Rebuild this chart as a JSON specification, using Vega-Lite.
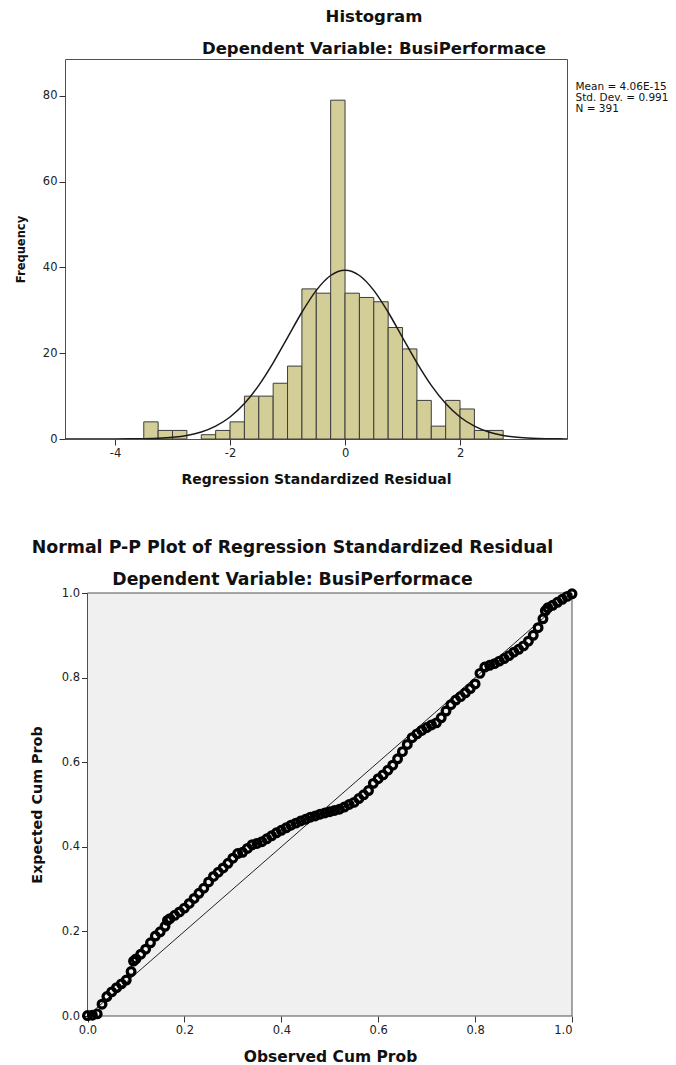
{
  "$schema": "https://vega.github.io/schema/vega-lite/v6.json",
  "background": "white",
  "padding": {"left": 14, "top": 8, "right": 0, "bottom": 0},
  "spacing": 52,
  "config": {
    "font": "DejaVu Sans",
    "view": {"fill": "#f0f0f0", "stroke": "#505050", "strokeWidth": 1},
    "axis": {"grid": false, "domain": false, "tickColor": "#333333", "tickSize": 6, "labelColor": "#222222", "labelFont": "DejaVu Sans", "labelFontSize": 11.5, "labelPadding": 2, "titleFont": "DejaVu Sans", "titleFontWeight": "bold", "titleColor": "#111111"},
    "title": {"font": "DejaVu Sans", "fontWeight": "bold", "fontSize": 16.5, "color": "#111111", "subtitleFont": "DejaVu Sans", "subtitleFontWeight": "bold", "subtitleFontSize": 16.5, "subtitleColor": "#111111"}
  },
  "datasets": {
    "bins": [
      {"bin_start": -3.5, "bin_end": -3.25, "count": 4},
      {"bin_start": -3.25, "bin_end": -3.0, "count": 2},
      {"bin_start": -3.0, "bin_end": -2.75, "count": 2},
      {"bin_start": -2.5, "bin_end": -2.25, "count": 1},
      {"bin_start": -2.25, "bin_end": -2.0, "count": 2},
      {"bin_start": -2.0, "bin_end": -1.75, "count": 4},
      {"bin_start": -1.75, "bin_end": -1.5, "count": 10},
      {"bin_start": -1.5, "bin_end": -1.25, "count": 10},
      {"bin_start": -1.25, "bin_end": -1.0, "count": 13},
      {"bin_start": -1.0, "bin_end": -0.75, "count": 17},
      {"bin_start": -0.75, "bin_end": -0.5, "count": 35},
      {"bin_start": -0.5, "bin_end": -0.25, "count": 34},
      {"bin_start": -0.25, "bin_end": 0.0, "count": 79},
      {"bin_start": 0.0, "bin_end": 0.25, "count": 34},
      {"bin_start": 0.25, "bin_end": 0.5, "count": 33},
      {"bin_start": 0.5, "bin_end": 0.75, "count": 32},
      {"bin_start": 0.75, "bin_end": 1.0, "count": 26},
      {"bin_start": 1.0, "bin_end": 1.25, "count": 21},
      {"bin_start": 1.25, "bin_end": 1.5, "count": 9},
      {"bin_start": 1.5, "bin_end": 1.75, "count": 3},
      {"bin_start": 1.75, "bin_end": 2.0, "count": 9},
      {"bin_start": 2.0, "bin_end": 2.25, "count": 7},
      {"bin_start": 2.25, "bin_end": 2.5, "count": 2},
      {"bin_start": 2.5, "bin_end": 2.75, "count": 2}
    ],
    "curve": [
      {"z": -4.87, "freq": 0.0002},
      {"z": -4.75, "freq": 0.0004},
      {"z": -4.5, "freq": 0.0013},
      {"z": -4.25, "freq": 0.004},
      {"z": -4.0, "freq": 0.011},
      {"z": -3.75, "freq": 0.031},
      {"z": -3.5, "freq": 0.077},
      {"z": -3.25, "freq": 0.182},
      {"z": -3.0, "freq": 0.403},
      {"z": -2.75, "freq": 0.837},
      {"z": -2.5, "freq": 1.63},
      {"z": -2.25, "freq": 2.99},
      {"z": -2.0, "freq": 5.13},
      {"z": -1.75, "freq": 8.28},
      {"z": -1.5, "freq": 12.51},
      {"z": -1.25, "freq": 17.76},
      {"z": -1.0, "freq": 23.65},
      {"z": -0.75, "freq": 29.55},
      {"z": -0.5, "freq": 34.65},
      {"z": -0.25, "freq": 38.12},
      {"z": 0.0, "freq": 39.35},
      {"z": 0.25, "freq": 38.12},
      {"z": 0.5, "freq": 34.65},
      {"z": 0.75, "freq": 29.55},
      {"z": 1.0, "freq": 23.65},
      {"z": 1.25, "freq": 17.76},
      {"z": 1.5, "freq": 12.51},
      {"z": 1.75, "freq": 8.28},
      {"z": 2.0, "freq": 5.13},
      {"z": 2.25, "freq": 2.99},
      {"z": 2.5, "freq": 1.63},
      {"z": 2.75, "freq": 0.837},
      {"z": 3.0, "freq": 0.403},
      {"z": 3.25, "freq": 0.182},
      {"z": 3.5, "freq": 0.077},
      {"z": 3.75, "freq": 0.031},
      {"z": 3.86, "freq": 0.02}
    ],
    "stats": [
      {"stat": "Mean = 4.06E-15"},
      {"stat": "Std. Dev. = 0.991"},
      {"stat": "N = 391"}
    ],
    "frame": [
      {"x0": 0, "x1": 1, "y0": 0, "y1": 1}
    ],
    "diag": [
      {"obs": 0, "exp": 0},
      {"obs": 1, "exp": 1}
    ],
    "pp": [
      {"obs": 0.0, "exp": 0.001}, {"obs": 0.01, "exp": 0.002}, {"obs": 0.02, "exp": 0.005},
      {"obs": 0.03, "exp": 0.028}, {"obs": 0.04, "exp": 0.046}, {"obs": 0.05, "exp": 0.057},
      {"obs": 0.06, "exp": 0.067}, {"obs": 0.07, "exp": 0.076}, {"obs": 0.08, "exp": 0.085},
      {"obs": 0.09, "exp": 0.105}, {"obs": 0.095, "exp": 0.13}, {"obs": 0.1, "exp": 0.135},
      {"obs": 0.11, "exp": 0.146}, {"obs": 0.12, "exp": 0.158}, {"obs": 0.13, "exp": 0.173},
      {"obs": 0.14, "exp": 0.189}, {"obs": 0.15, "exp": 0.199}, {"obs": 0.16, "exp": 0.212},
      {"obs": 0.165, "exp": 0.226}, {"obs": 0.17, "exp": 0.23}, {"obs": 0.18, "exp": 0.238},
      {"obs": 0.19, "exp": 0.246}, {"obs": 0.2, "exp": 0.255}, {"obs": 0.21, "exp": 0.266},
      {"obs": 0.22, "exp": 0.278}, {"obs": 0.23, "exp": 0.29}, {"obs": 0.24, "exp": 0.302},
      {"obs": 0.25, "exp": 0.317}, {"obs": 0.26, "exp": 0.33}, {"obs": 0.27, "exp": 0.34},
      {"obs": 0.28, "exp": 0.35}, {"obs": 0.29, "exp": 0.361}, {"obs": 0.3, "exp": 0.373},
      {"obs": 0.31, "exp": 0.384}, {"obs": 0.32, "exp": 0.387}, {"obs": 0.33, "exp": 0.396},
      {"obs": 0.34, "exp": 0.405}, {"obs": 0.35, "exp": 0.408}, {"obs": 0.36, "exp": 0.412},
      {"obs": 0.37, "exp": 0.419}, {"obs": 0.38, "exp": 0.426}, {"obs": 0.39, "exp": 0.433},
      {"obs": 0.4, "exp": 0.439}, {"obs": 0.41, "exp": 0.445}, {"obs": 0.42, "exp": 0.451},
      {"obs": 0.43, "exp": 0.456}, {"obs": 0.44, "exp": 0.461}, {"obs": 0.45, "exp": 0.465},
      {"obs": 0.46, "exp": 0.47}, {"obs": 0.47, "exp": 0.473}, {"obs": 0.48, "exp": 0.477},
      {"obs": 0.49, "exp": 0.48}, {"obs": 0.5, "exp": 0.483}, {"obs": 0.51, "exp": 0.486},
      {"obs": 0.52, "exp": 0.489}, {"obs": 0.53, "exp": 0.494}, {"obs": 0.54, "exp": 0.5},
      {"obs": 0.55, "exp": 0.505}, {"obs": 0.56, "exp": 0.514}, {"obs": 0.57, "exp": 0.523},
      {"obs": 0.58, "exp": 0.533}, {"obs": 0.59, "exp": 0.55}, {"obs": 0.6, "exp": 0.561},
      {"obs": 0.61, "exp": 0.57}, {"obs": 0.62, "exp": 0.581}, {"obs": 0.63, "exp": 0.593},
      {"obs": 0.64, "exp": 0.608}, {"obs": 0.65, "exp": 0.625}, {"obs": 0.66, "exp": 0.642},
      {"obs": 0.67, "exp": 0.658}, {"obs": 0.68, "exp": 0.667}, {"obs": 0.69, "exp": 0.675},
      {"obs": 0.7, "exp": 0.682}, {"obs": 0.71, "exp": 0.688}, {"obs": 0.72, "exp": 0.693},
      {"obs": 0.73, "exp": 0.705}, {"obs": 0.74, "exp": 0.721}, {"obs": 0.75, "exp": 0.736},
      {"obs": 0.76, "exp": 0.747}, {"obs": 0.77, "exp": 0.755}, {"obs": 0.78, "exp": 0.764},
      {"obs": 0.79, "exp": 0.774}, {"obs": 0.8, "exp": 0.785}, {"obs": 0.81, "exp": 0.81},
      {"obs": 0.82, "exp": 0.825}, {"obs": 0.83, "exp": 0.829}, {"obs": 0.84, "exp": 0.833},
      {"obs": 0.85, "exp": 0.839}, {"obs": 0.86, "exp": 0.845}, {"obs": 0.87, "exp": 0.852},
      {"obs": 0.88, "exp": 0.86}, {"obs": 0.89, "exp": 0.867}, {"obs": 0.9, "exp": 0.875},
      {"obs": 0.91, "exp": 0.886}, {"obs": 0.92, "exp": 0.9}, {"obs": 0.93, "exp": 0.918},
      {"obs": 0.94, "exp": 0.939}, {"obs": 0.945, "exp": 0.958}, {"obs": 0.95, "exp": 0.965},
      {"obs": 0.96, "exp": 0.971}, {"obs": 0.97, "exp": 0.978}, {"obs": 0.98, "exp": 0.985},
      {"obs": 0.99, "exp": 0.992}, {"obs": 1.0, "exp": 0.998}
    ]
  },
  "vconcat": [
    {
      "width": 502,
      "height": 380,
      "title": {"text": "Histogram", "subtitle": "Dependent Variable: BusiPerformace", "anchor": "middle", "frame": "group", "dx": 58, "offset": 2, "subtitlePadding": 15},
      "layer": [
        {
          "data": {"name": "bins"},
          "mark": {"type": "rect", "fill": "#d3ce97", "stroke": "#3c3c3c", "strokeWidth": 1},
          "encoding": {
            "x": {"field": "bin_start", "type": "quantitative",
                  "scale": {"domain": [-4.87, 3.86], "nice": false, "zero": false},
                  "axis": {"values": [-4, -2, 0, 2], "labelExpr": "datum.value + ''", "title": "Regression Standardized Residual", "titleFontSize": 14, "titlePadding": 14}},
            "x2": {"field": "bin_end"},
            "y": {"field": "count", "type": "quantitative",
                  "scale": {"domain": [0, 88.6], "nice": false},
                  "axis": {"values": [0, 20, 40, 60, 80], "title": "Frequency", "titleFontSize": 11.5, "titlePadding": 16}},
            "y2": {"datum": 0}
          }
        },
        {
          "data": {"name": "curve"},
          "mark": {"type": "line", "color": "#1a1a1a", "strokeWidth": 1.5, "interpolate": "monotone", "clip": true},
          "encoding": {
            "x": {"field": "z", "type": "quantitative"},
            "y": {"field": "freq", "type": "quantitative"}
          }
        },
        {
          "data": {"name": "stats"},
          "mark": {"type": "point", "opacity": 0},
          "encoding": {
            "color": {"field": "stat", "type": "nominal",
                      "scale": {"domain": ["Mean = 4.06E-15", "Std. Dev. = 0.991", "N = 391"], "range": ["#000000", "#000000", "#000000"]},
                      "legend": {"title": null, "orient": "none", "direction": "vertical", "legendX": 500, "legendY": 23, "symbolSize": 0, "symbolOpacity": 0, "symbolStrokeWidth": 0, "labelOffset": 0, "labelFont": "DejaVu Sans", "labelFontSize": 10.5, "labelColor": "#111111", "rowPadding": 0, "padding": 0}}
          }
        }
      ]
    },
    {
      "width": 507,
      "height": 423,
      "view": {"fill": null, "stroke": null},
      "title": {"text": "Normal P-P Plot of Regression Standardized Residual", "subtitle": "Dependent Variable: BusiPerformace", "anchor": "middle", "frame": "group", "dx": -26, "fontSize": 17.4, "subtitleFontSize": 17.3, "offset": -5, "subtitlePadding": 14.5},
      "layer": [
        {
          "data": {"name": "frame"},
          "mark": {"type": "rect", "fill": "#f0f0f0", "stroke": "#505050", "strokeWidth": 1},
          "encoding": {
            "x": {"field": "x0", "type": "quantitative",
                  "scale": {"domain": [-0.04644, 1], "nice": false, "zero": false},
                  "axis": {"values": [0, 0.2, 0.4, 0.6, 0.8, 1], "format": ".1f", "title": "Observed Cum Prob", "titleFontSize": 15.5, "titlePadding": 14, "titleX": 265}},
            "x2": {"field": "x1"},
            "y": {"field": "y0", "type": "quantitative",
                  "scale": {"domain": [0, 1], "nice": false},
                  "axis": {"values": [0, 0.2, 0.4, 0.6, 0.8, 1], "format": ".1f", "title": "Expected Cum Prob", "titleFontSize": 14.3, "titlePadding": 17, "offset": -22.5}},
            "y2": {"field": "y1"}
          }
        },
        {
          "data": {"name": "diag"},
          "mark": {"type": "line", "color": "#222222", "strokeWidth": 1},
          "encoding": {
            "x": {"field": "obs", "type": "quantitative"},
            "y": {"field": "exp", "type": "quantitative"}
          }
        },
        {
          "data": {"name": "pp"},
          "mark": {"type": "point", "shape": "circle", "filled": false, "stroke": "#000000", "strokeWidth": 3.2, "size": 60, "opacity": 1},
          "encoding": {
            "x": {"field": "obs", "type": "quantitative"},
            "y": {"field": "exp", "type": "quantitative"}
          }
        }
      ]
    }
  ]
}
